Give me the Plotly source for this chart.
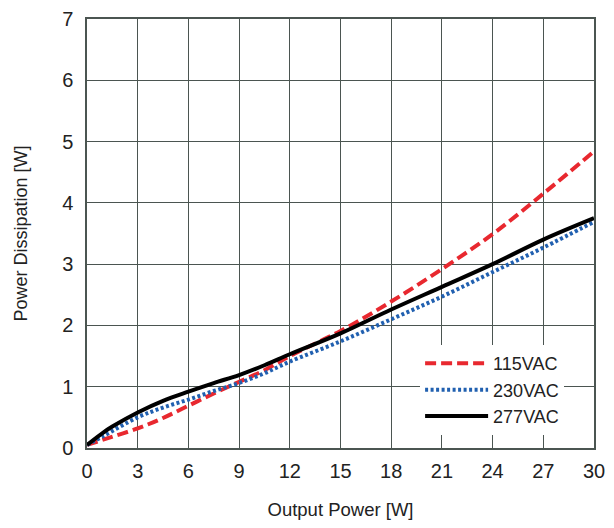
import plotly.graph_objects as go

x_277 = [0, 1, 1.5, 3, 4.5, 6, 7.5, 9, 10.5, 12, 15, 18, 21, 24, 27, 30]
y_277 = [0.05, 0.26, 0.35, 0.58, 0.77, 0.92, 1.06, 1.19, 1.35, 1.53, 1.87, 2.26, 2.63, 3.00, 3.40, 3.75]

x_230 = [0, 1, 3, 4.5, 6, 7.5, 9, 10.5, 12, 15, 18, 21, 24, 27, 30]
y_230 = [0.05, 0.20, 0.50, 0.66, 0.79, 0.93, 1.06, 1.22, 1.41, 1.74, 2.10, 2.47, 2.87, 3.27, 3.69]

x_115 = [0, 1, 3, 4.5, 6, 7.5, 9, 10.5, 12, 15, 18, 21, 24, 27, 30]
y_115 = [0.05, 0.14, 0.32, 0.49, 0.69, 0.89, 1.08, 1.27, 1.50, 1.91, 2.39, 2.92, 3.49, 4.15, 4.84]

x_ticks = [0, 3, 6, 9, 12, 15, 18, 21, 24, 27, 30]
y_ticks = [0, 1, 2, 3, 4, 5, 6, 7]

FONT = "Liberation Sans, Arial, sans-serif"
GRID = "#4b5551"

fig = go.Figure()
fig.add_trace(go.Scatter(x=x_115, y=y_115, name="115VAC", mode="lines",
                         line=dict(color="#e8282f", width=4, dash="11px,5px", shape="spline")))
fig.add_trace(go.Scatter(x=x_230, y=y_230, name="230VAC", mode="lines",
                         line=dict(color="#2160b0", width=4, dash="3px,2.5px", shape="spline")))
fig.add_trace(go.Scatter(x=x_277, y=y_277, name="277VAC", mode="lines",
                         line=dict(color="#000000", width=4, shape="spline")))

fig.update_layout(
    width=606, height=520,
    margin=dict(l=79, r=20, t=11, b=80),
    paper_bgcolor="white", plot_bgcolor="white",
    font=dict(family=FONT, size=20, color="#222222"),
    showlegend=True,
    legend=dict(x=0.657, y=0.24, xanchor="left", yanchor="top",
                bgcolor="white", borderwidth=0,
                font=dict(family=FONT, size=18, color="#222222"),
                itemwidth=63, tracegroupgap=0),
    xaxis=dict(range=[0, 30], tickvals=x_ticks, showgrid=True, gridcolor=GRID, gridwidth=1.2,
               showline=True, linecolor=GRID, linewidth=1.5, mirror=True, zeroline=False,
               ticks="outside", ticklen=4, tickcolor="rgba(0,0,0,0)",
               tickfont=dict(size=20), ticklabeloverflow="allow",
               title=dict(text="Output Power [W]", font=dict(size=18.5), standoff=22),
               automargin=False, fixedrange=True),
    yaxis=dict(range=[0, 7], tickvals=y_ticks, showgrid=True, gridcolor=GRID, gridwidth=1.2,
               showline=True, linecolor=GRID, linewidth=1.5, mirror=True, zeroline=False,
               ticks="outside", ticklen=8, tickcolor="rgba(0,0,0,0)",
               tickfont=dict(size=20), ticklabeloverflow="allow",
               title=dict(text="Power Dissipation [W]", font=dict(size=18), standoff=30),
               automargin=False, fixedrange=True),
)

fig.write_html("out.html")
